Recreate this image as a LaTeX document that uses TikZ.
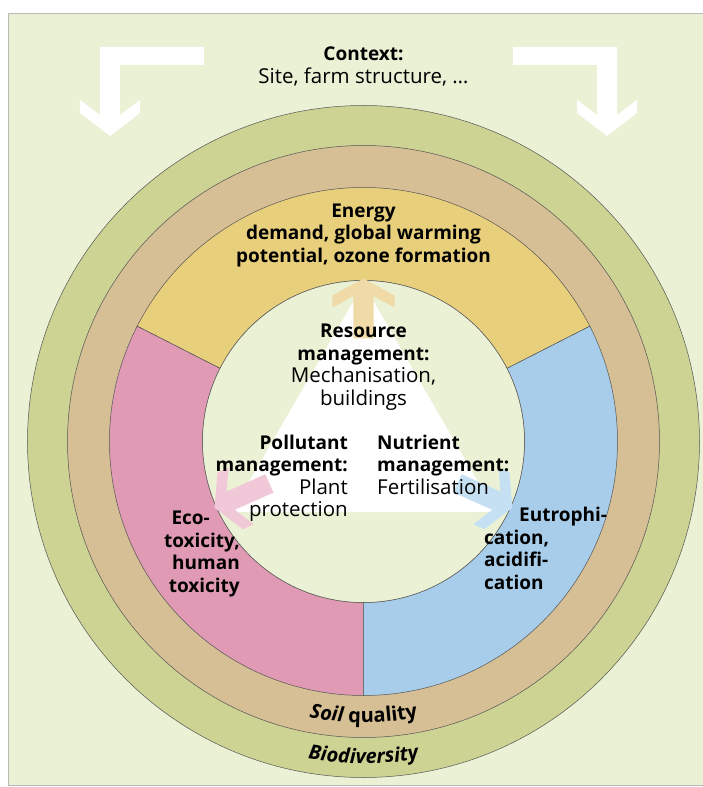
\documentclass[tikz,border=0pt]{standalone}
\usepackage{fontspec}
\setmainfont{Open Sans}[Ligatures={NoCommon,NoRare}]
\usepackage{tikz}
\usetikzlibrary{positioning,decorations.text}
\definecolor{leaf}{RGB}{234,241,212}
\definecolor{biodiv}{RGB}{204,211,147}
\definecolor{soil}{RGB}{214,190,149}
\definecolor{energy}{RGB}{232,207,124}
\definecolor{toxic}{RGB}{224,154,179}
\definecolor{eutro}{RGB}{168,205,234}
\definecolor{rule}{RGB}{85,85,85}
\definecolor{framegrey}{RGB}{185,185,185}
\definecolor{paleenergy}{RGB}{240,218,168}
\definecolor{paletoxic}{RGB}{240,200,215}
\definecolor{paleeutro}{RGB}{198,224,243}

% annular sector of the impact ring: start angle, end angle, colour
\newcommand{\ringsector}[3]{%
  \filldraw[fill=#3,draw=rule,line width=0.5pt]
    (#1:254) arc[start angle=#1,end angle=#2,radius=254]
    -- (#2:161) arc[start angle=#2,end angle=#1,radius=161] -- cycle;}
% pale chevron arrow, tip on the inner circle: angle, colour
\newcommand{\palearrow}[2]{%
  \fill[#2,shift={(#1:163)},rotate=#1]
    (0,0) -- (-17,31) -- (-29,31) -- (-17.5,10) -- (-60,10)
    -- (-60,-10) -- (-17.5,-10) -- (-29,-31) -- (-17,-31) -- cycle;}
\newcommand{\lt}{\mdseries\fontsize{20.5}{22.5}\selectfont}

\tikzset{
  lbl/.style={font=\bfseries\fontsize{19}{22.5}\selectfont,align=center,inner sep=0pt},
  ringtext/.style={decorate,decoration={text along path,text align=center,text={#1}}}
}

\begin{document}
\begin{tikzpicture}[x=1pt,y=1pt]
  \useasboundingbox (-363.5,-345.5) rectangle (338.5,441.5);
  \fill[white] (-363.5,-345.5) rectangle (338.5,441.5);
  \filldraw[fill=leaf,draw=framegrey,line width=0.8pt] (-355.5,-343.5) rectangle (341.5,428.5);

  % context arrows
  \fill[white] (-159.5,394.5) -- (-263.5,394.5) -- (-263.5,326.5) -- (-283.5,341.5)
    -- (-283.5,328.5) -- (-253.5,305.5) -- (-223.5,328.5) -- (-223.5,341.5)
    -- (-243.5,326.5) -- (-243.5,376.5) -- (-159.5,376.5) -- cycle;
  \fill[white] (149.5,394.5) -- (253.5,394.5) -- (253.5,326.5) -- (273.5,341.5)
    -- (273.5,328.5) -- (243.5,305.5) -- (213.5,328.5) -- (213.5,341.5)
    -- (233.5,326.5) -- (233.5,376.5) -- (149.5,376.5) -- cycle;

  % rings
  \filldraw[fill=biodiv,draw=rule,line width=0.5pt] (0,0) circle[radius=336];
  \filldraw[fill=soil,draw=rule,line width=0.5pt] (0,0) circle[radius=296];
  \ringsector{27}{153}{energy}
  \ringsector{153}{270}{toxic}
  \ringsector{270}{387}{eutro}
  \filldraw[fill=leaf,draw=rule,line width=0.5pt] (0,0) circle[radius=161];

  % management triangle
  \fill[white] (0,157.5) -- (-132,-70.5) -- (132,-70.5) -- cycle;
  \palearrow{90}{paleenergy}
  \palearrow{204}{paletoxic}
  \palearrow{336}{paleeutro}

  % labels
  \node[lbl] (context) at (0,375) {Context:\\\lt Site, farm structure, \dots};
  \node[lbl] (energy) at (0,206) {Energy\\demand, global warming\\potential, ozone formation};
  \node[lbl] (resource) at (0,74.5) {Resource\\management:\\\lt Mechanisation,\\\lt buildings};
  \node[lbl,align=right,anchor=north east] (pollutant) at (-15.5,7)
    {Pollutant\\management:\\\lt Plant\\\lt protection};
  \node[lbl,align=left,anchor=north west] (nutrient) at (13.5,7)
    {Nutrient\\management:\\\lt Fertilisation};
  \node[lbl,align=right,anchor=north east] (ecotox) at (-123.5,-69.5)
    {Eco-\hspace*{30pt}\\toxicity,\hspace*{13pt}\\human\\toxicity};
  \node[lbl,align=left,anchor=north west] (eutroph) at (120.5,-65.5)
    {\hspace*{35pt}Eutrophi-\\cation,\\acidifi-\\cation};

  \path[ringtext={|\fontsize{20}{24}\selectfont\bfseries\itshape|Soil |\fontsize{20}{24}\selectfont\bfseries|quality}]
    (200:281) arc[start angle=200,end angle=340,radius=281];
  \path[ringtext={|\fontsize{20}{24}\selectfont\bfseries\itshape|Biodiversity}]
    (200:322) arc[start angle=200,end angle=340,radius=322];
\end{tikzpicture}
\end{document}
